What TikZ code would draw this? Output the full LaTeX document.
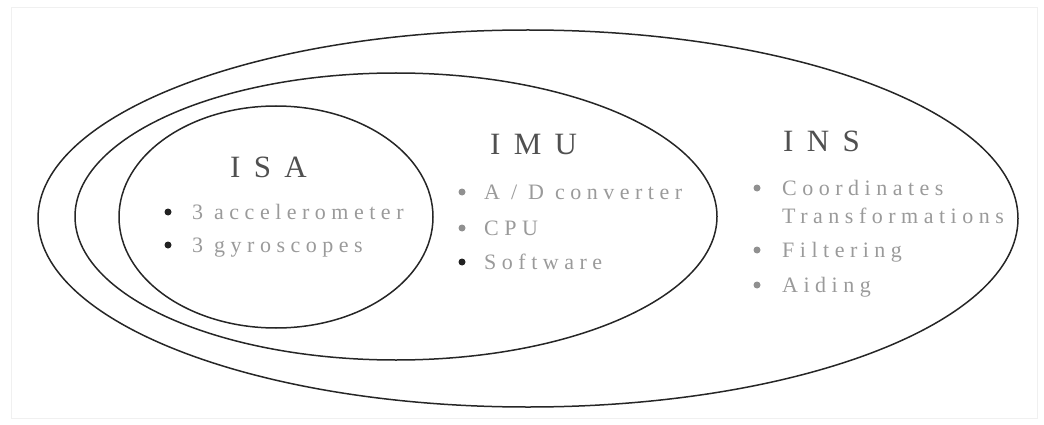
\documentclass[tikz,border=0pt]{standalone}
\usepackage{fontspec}
\setmainfont{Liberation Serif}
\newfontfamily\titlefont[LetterSpace=18]{Liberation Serif}
\newfontfamily\itemfont[LetterSpace=25]{Liberation Serif}
\usetikzlibrary{shapes.geometric}
\definecolor{ringcol}{HTML}{262626}
\definecolor{titlecol}{HTML}{505050}
\definecolor{itemcol}{HTML}{9A9A9A}
\definecolor{dotdark}{HTML}{222222}
\definecolor{dotlight}{HTML}{909090}
\tikzset{
  ring/.style={draw=ringcol, line width=1.5pt, ellipse, inner sep=0pt, outer sep=0pt},
  settitle/.style={anchor=base west, inner sep=0pt, text=titlecol, font=\titlefont\fontsize{31}{31}\selectfont},
  setitem/.style={anchor=base west, inner sep=0pt, text=itemcol, font=\itemfont\fontsize{22}{22}\selectfont},
  dot/.style={circle, inner sep=0pt, minimum size=7pt},
}
\begin{document}
\begin{tikzpicture}[x=1pt, y=-1pt]
\useasboundingbox (0,0) rectangle (1044,425);
% faint page frame
\draw[gray!12, line width=1pt] (11,8) rectangle (1037,418);

% nested sets
\node[ring, minimum width=980pt, minimum height=377pt] (ins) at (528,218.5) {};
\node[ring, minimum width=642pt, minimum height=287pt] (imu) at (396,216.5) {};
\node[ring, minimum width=314pt, minimum height=222pt] (isa) at (276,217) {};

% ISA
\node[settitle] (isat) at (230,178) {I S A};
\node[dot, fill=dotdark] (isab1) at (168,212) {};
\node[setitem] (isai1) at (192,219) {3 accelerometer};
\node[dot, fill=dotdark] (isab2) at (168,245) {};
\node[setitem] (isai2) at (192,252) {3 gyroscopes};

% IMU
\node[settitle] (imut) at (490,154) {I M U};
\node[dot, fill=dotlight] (imub1) at (462,192) {};
\node[setitem] (imui1) at (484,199) {A / D converter};
\node[dot, fill=dotlight] (imub2) at (462,228) {};
\node[setitem] (imui2) at (484,235) {CPU};
\node[dot, fill=dotdark] (imub3) at (462,262) {};
\node[setitem] (imui3) at (484,269) {Software};

% INS
\node[settitle] (inst) at (783,151) {I N S};
\node[dot, fill=dotlight] (insb1) at (757,188) {};
\node[setitem] (insi1) at (782,195) {Coordinates};
\node[setitem] (insi1b) at (782,223) {Transformations};
\node[dot, fill=dotlight] (insb2) at (757,250) {};
\node[setitem] (insi2) at (782,257) {Filtering};
\node[dot, fill=dotlight] (insb3) at (757,285) {};
\node[setitem] (insi3) at (782,292) {Aiding};
\end{tikzpicture}
\end{document}
